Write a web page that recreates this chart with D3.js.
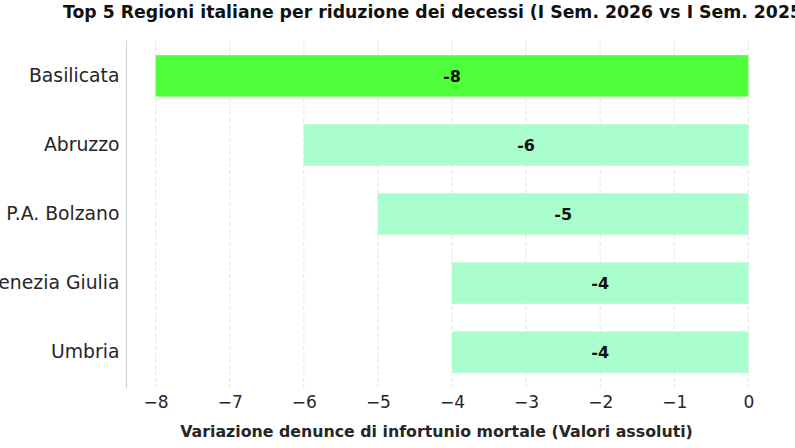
<!DOCTYPE html>
<html>
<head>
<meta charset="utf-8">
<script src="https://cdn.jsdelivr.net/npm/d3@7"></script>
<style>
  body { margin: 0; background: #fff; }
  svg { display: block; font-family: "DejaVu Sans", sans-serif; }
</style>
</head>
<body>
<svg id="chart" width="795" height="448"></svg>
<script>
// dati
const regions = ['Basilicata', 'Abruzzo', 'P.A. Bolzano', 'Friuli-Venezia Giulia', 'Umbria'];
const deltas = [-8, -6, -5, -4, -4];
const highlight = ['Basilicata'];
const xTicks = [-8, -7, -6, -5, -4, -3, -2, -1, 0];

const title = 'Top 5 Regioni italiane per riduzione dei decessi (I Sem. 2026 vs I Sem. 2025)';
const xLabel = 'Variazione denunce di infortunio mortale (Valori assoluti)';

const svg = d3.select('#chart');
const margin = { left: 126, right: 17, top: 40, bottom: 60 };
const width = 795 - margin.left - margin.right;
const height = 448 - margin.top - margin.bottom;

const x = d3.scaleLinear().domain([-8.4, 0.4]).range([0, width]);
const y = d3.scaleBand().domain(regions).range([0, height]).paddingInner(0.4).paddingOuter(0.22);

const g = svg.append('g').attr('transform', `translate(${margin.left},${margin.top})`);

// griglia
g.selectAll('.grid')
  .data(xTicks)
  .enter()
  .append('line')
  .attr('class', 'grid')
  .attr('x1', d => x(d))
  .attr('x2', d => x(d))
  .attr('y1', 0)
  .attr('y2', height)
  .attr('stroke', '#dcdcdc')
  .attr('stroke-width', 0.8)
  .attr('stroke-dasharray', '4,2.5');

// barre
g.selectAll('.bar')
  .data(regions)
  .enter()
  .append('rect')
  .attr('class', 'bar')
  .attr('x', (d, i) => x(deltas[i]))
  .attr('y', d => y(d))
  .attr('width', (d, i) => x(0) - x(deltas[i]))
  .attr('height', y.bandwidth())
  .attr('fill', d => highlight.includes(d) ? '#4fff3a' : '#aafdcc');

// etichette valori
g.selectAll('.label')
  .data(regions)
  .enter()
  .append('text')
  .attr('class', 'label')
  .attr('x', (d, i) => x(deltas[i] / 2))
  .attr('y', d => y(d) + y.bandwidth() / 2)
  .attr('dy', '0.36em')
  .attr('text-anchor', 'middle')
  .attr('font-weight', 'bold')
  .attr('font-size', 16)
  .attr('fill', '#111')
  .text((d, i) => deltas[i]);

// asse y
const yAxis = g.append('g').call(d3.axisLeft(y).tickSize(0).tickPadding(6.5));
yAxis.select('.domain').attr('stroke', '#ccd6d6').attr('stroke-width', 1.2);
yAxis.selectAll('text').attr('font-size', 18.8).attr('fill', '#262626')
  .attr('font-family', '"DejaVu Sans", sans-serif');

// asse x
const xAxis = g.append('g')
  .attr('transform', `translate(0,${height})`)
  .call(d3.axisBottom(x).tickValues(xTicks).tickSize(0).tickPadding(8).tickFormat(d3.format('d')));
xAxis.select('.domain').remove();
xAxis.selectAll('text').attr('font-size', 17).attr('fill', '#262626')
  .attr('font-family', '"DejaVu Sans", sans-serif');

// titoli
svg.append('text')
  .attr('x', 63)
  .attr('y', 17.5)
  .attr('font-weight', 'bold')
  .attr('font-size', 17.3)
  .attr('fill', '#111')
  .text(title);

svg.append('text')
  .attr('x', 436.5)
  .attr('y', 437)
  .attr('text-anchor', 'middle')
  .attr('font-weight', 'bold')
  .attr('font-size', 15.8)
  .attr('fill', '#262626')
  .text(xLabel);
</script>
</body>
</html>
